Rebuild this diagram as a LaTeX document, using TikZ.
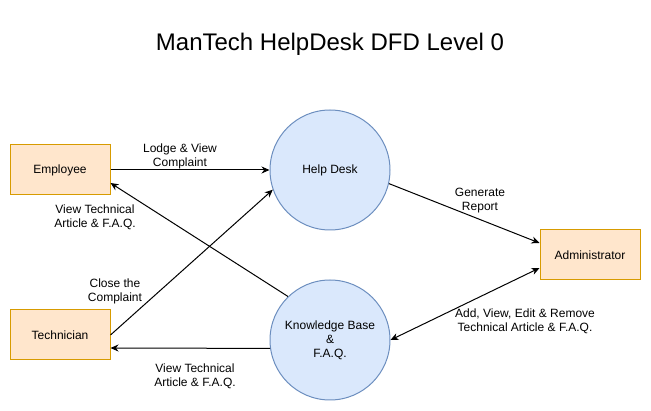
\documentclass[tikz,border=0pt]{standalone}
\usepackage{fontspec}
\setmainfont{Liberation Sans}
\usepackage{tikz}
\usetikzlibrary{arrows.meta}

\definecolor{entfill}{HTML}{FFE6CC}
\definecolor{entdraw}{HTML}{D79B00}
\definecolor{procfill}{HTML}{DAE8FC}
\definecolor{procdraw}{HTML}{6C8EBF}

\tikzset{
    entity/.style={draw=entdraw, fill=entfill, line width=1pt, minimum width=100pt, minimum height=50pt, inner sep=0pt, font=\fontsize{12}{14}\selectfont},
    process/.style={circle, draw=procdraw, fill=procfill, line width=1pt, minimum size=120pt, inner sep=0pt, align=center, font=\fontsize{12}{14}\selectfont},
    lbl/.style={align=center, inner sep=1pt, font=\fontsize{12}{14}\selectfont},
    flow/.style={line width=1pt}
}

\begin{document}
\begin{tikzpicture}[x=1pt, y=-1pt, >={Stealth[length=8pt,width=7pt]}]
        \useasboundingbox (0,0) rectangle (651,411);
        \node[font=\fontsize{24}{28}\selectfont] (title) at (330,44) {ManTech HelpDesk DFD Level 0};
        % external entities
        \node[entity] (employee) at (60,170) {Employee};
        \node[entity] (technician) at (60,335) {Technician};
        \node[entity] (admin) at (590,255) {Administrator};
        % processes
        \node[process] (helpdesk) at (330,170) {Help Desk};
        \node[process] (kbase) at (330,340) {Knowledge Base\\\&\\F.A.Q.};
        % flows
        \draw[flow,->] (employee.east) -- (helpdesk.west);
        \draw[flow,->] (kbase.134) -- ([yshift=-13pt]employee.east);
        \draw[flow,->] (technician.east) -- (helpdesk.199);
        \draw[flow,->] (kbase.188) -- ([yshift=-13pt]technician.east);
        \draw[flow,->] (helpdesk.347) -- ([yshift=12pt]admin.west);
        \draw[flow,<->] ([yshift=-13pt]admin.west) -- (kbase.east);
        % flow labels
        \node[lbl] (lodge) at (180,156) {Lodge \& View\\Complaint};
        \node[lbl] (viewemp) at (95,217) {View Technical\\Article \& F.A.Q.};
        \node[lbl] (close) at (115,291) {Close the\\Complaint};
        \node[lbl] (viewtech) at (195,376) {View Technical\\Article \& F.A.Q.};
        \node[lbl] (report) at (480,201) {Generate\\Report};
        \node[lbl] (manage) at (525,321) {Add, View, Edit \& Remove\\Technical Article \& F.A.Q.};
\end{tikzpicture}
\end{document}
